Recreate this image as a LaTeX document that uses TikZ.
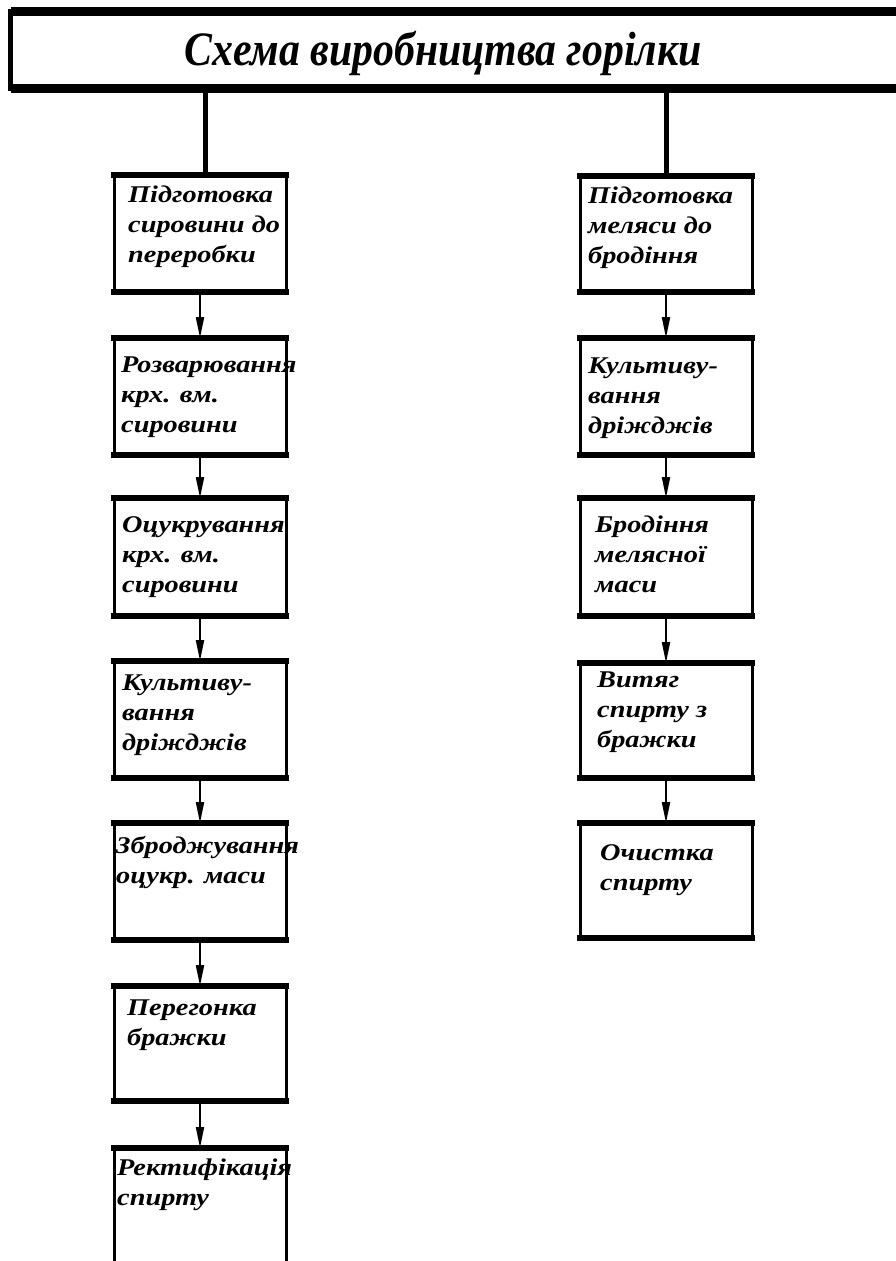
\documentclass[tikz,border=0pt]{standalone}
\usepackage{fontspec}
\newfontfamily\boxfont{Liberation Serif}[FakeStretch=1.18]
\newfontfamily\titlefont{Liberation Serif}[FakeStretch=0.87]
\usetikzlibrary{arrows.meta,calc}
\begin{document}
\begin{tikzpicture}[x=1pt,y=-1pt,
  box/.style={draw, line width=3pt, rectangle, minimum width=172pt, inner sep=0pt, outer sep=0pt, anchor=north west},
  thickedge/.style={line width=6pt, line cap=rect},
  titleedge/.style={line width=9pt},
  txt/.style={font=\boxfont\bfseries\itshape\fontsize{24}{30}\selectfont, align=left, anchor=north west, inner sep=0pt},
  arr/.style={line width=2pt, -{Triangle[length=21pt,width=8pt]}},
  conn/.style={line width=5pt}]
\fill[white] (0,0) rectangle (896,1261);
\useasboundingbox (0,0) rectangle (896,1261);

% title
\node[draw, line width=5pt, minimum width=920pt, minimum height=77pt, inner sep=0pt, outer sep=0pt, anchor=north west] (title) at (10.5,11) {};
\draw[titleedge] (title.north west) -- (title.north east) (title.south west) -- (title.south east);
\node[font=\titlefont\bfseries\itshape\fontsize{48}{52}\selectfont, anchor=base] (ttl) at (443,65) {Схема виробництва горілки};

% left column boxes
\node[box, minimum height=117pt] (l1) at (114,175) {};
\node[box, minimum height=117pt] (l2) at (114,338) {};
\node[box, minimum height=118pt] (l3) at (114,498) {};
\node[box, minimum height=117pt] (l4) at (114,661) {};
\node[box, minimum height=117pt] (l5) at (114,823) {};
\node[box, minimum height=115pt] (l6) at (114,986) {};
\node[box, minimum height=130pt] (l7) at (114,1148) {};

% right column boxes
\node[box, minimum height=116pt] (r1) at (580,176) {};
\node[box, minimum height=117pt] (r2) at (580,338) {};
\node[box, minimum height=118pt] (r3) at (580,498) {};
\node[box, minimum height=115pt] (r4) at (580,663) {};
\node[box, minimum height=115pt] (r5) at (580,823) {};

\foreach \n in {l1,l2,l3,l4,l5,l6,l7,r1,r2,r3,r4,r5}
  \draw[thickedge] (\n.north west) -- (\n.north east) (\n.south west) -- (\n.south east);

% texts
\node[txt] (l1t) at (128,181) {\strut Підготовка\\сировини до\\переробки};
\node[txt] (l2t) at (121,351) {\strut Розварювання\\крх. вм.\\сировини};
\node[txt] (l3t) at (122,511) {\strut Оцукрування\\крх. вм.\\сировини};
\node[txt] (l4t) at (122,669) {\strut Культиву-\\вання\\дріжджів};
\node[txt] (l5t) at (116,832) {\strut Зброджування\\оцукр. маси};
\node[txt] (l6t) at (127,994) {\strut Перегонка\\бражки};
\node[txt] (l7t) at (117,1154) {\strut Ректифікація\\спирту};

\node[txt] (r1t) at (588,182) {\strut Підготовка\\меляси до\\бродіння};
\node[txt] (r2t) at (588,352) {\strut Культиву-\\вання\\дріжджів};
\node[txt] (r3t) at (595,511) {\strut Бродіння\\мелясної\\маси};
\node[txt] (r4t) at (597,666) {\strut Витяг\\спирту з\\бражки};
\node[txt] (r5t) at (600,839) {\strut Очистка\\спирту};

% connectors from title
\draw[conn] ([xshift=5pt]l1.north) -- ([xshift=5pt]l1.north |- title.south);
\draw[conn] (r1.north) -- (r1.north |- title.south);

% arrows
\draw[arr] (l1.south) -- (l2.north);
\draw[arr] (l2.south) -- (l3.north);
\draw[arr] (l3.south) -- (l4.north);
\draw[arr] (l4.south) -- (l5.north);
\draw[arr] (l5.south) -- (l6.north);
\draw[arr] (l6.south) -- (l7.north);
\draw[arr] (r1.south) -- (r2.north);
\draw[arr] (r2.south) -- (r3.north);
\draw[arr] (r3.south) -- (r4.north);
\draw[arr] (r4.south) -- (r5.north);
\end{tikzpicture}
\end{document}
